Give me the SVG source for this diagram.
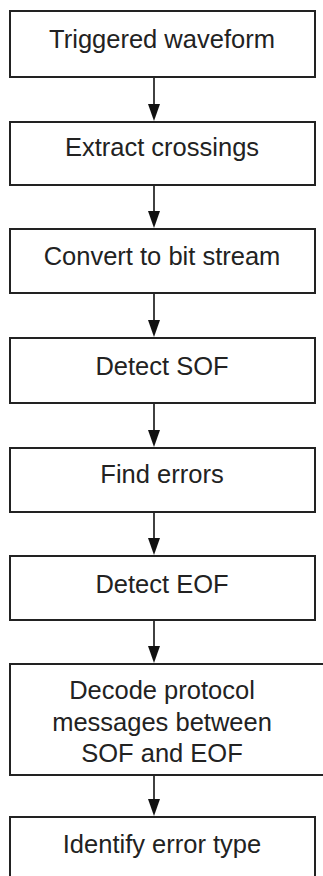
<svg xmlns="http://www.w3.org/2000/svg" width="323" height="876" viewBox="0 0 323 876">
<defs>
<style>
.box{fill:#fff;stroke:#222;stroke-width:2}
.lbl{font-family:"Liberation Sans",Arial,sans-serif;font-size:25.5px;fill:#222;text-anchor:middle}
.con line{stroke:#111;stroke-width:1.6}
.con polygon{fill:#111}
</style>
</defs>
<rect width="323" height="876" fill="#fff"/>
<g class="con" id="connectors">
<line x1="154" y1="77" x2="154" y2="106"/><polygon points="148,104 160,104 154,121"/>
<line x1="154" y1="185" x2="154" y2="213"/><polygon points="148,211 160,211 154,228"/>
<line x1="154" y1="293" x2="154" y2="322"/><polygon points="148,320 160,320 154,337"/>
<line x1="154" y1="403" x2="154" y2="432"/><polygon points="148,430 160,430 154,447"/>
<line x1="154" y1="512" x2="154" y2="540"/><polygon points="148,538 160,538 154,555"/>
<line x1="154" y1="620" x2="154" y2="648"/><polygon points="148,646 160,646 154,663"/>
<line x1="154" y1="775" x2="154" y2="801"/><polygon points="148,799 160,799 154,816"/>
</g>
<g id="n1"><rect class="box" x="10" y="11" width="305" height="66"/><text class="lbl" x="162" y="48">Triggered waveform</text></g>
<g id="n2"><rect class="box" x="10" y="122" width="305" height="63"/><text class="lbl" x="162" y="156">Extract crossings</text></g>
<g id="n3"><rect class="box" x="10" y="229" width="305" height="64"/><text class="lbl" x="162" y="265">Convert to bit stream</text></g>
<g id="n4"><rect class="box" x="10" y="338" width="305" height="65"/><text class="lbl" x="162" y="375">Detect SOF</text></g>
<g id="n5"><rect class="box" x="10" y="448" width="305" height="64"/><text class="lbl" x="162" y="483">Find errors</text></g>
<g id="n6"><rect class="box" x="10" y="556" width="305" height="64"/><text class="lbl" x="162" y="593">Detect EOF</text></g>
<g id="n7"><rect class="box" x="10" y="664" width="320" height="111"/><text class="lbl" x="162" y="699">Decode protocol</text><text class="lbl" x="162" y="731">messages between</text><text class="lbl" x="162" y="762">SOF and EOF</text></g>
<g id="n8"><rect class="box" x="10" y="817" width="305" height="80"/><text class="lbl" x="162" y="853">Identify error type</text></g>
</svg>
